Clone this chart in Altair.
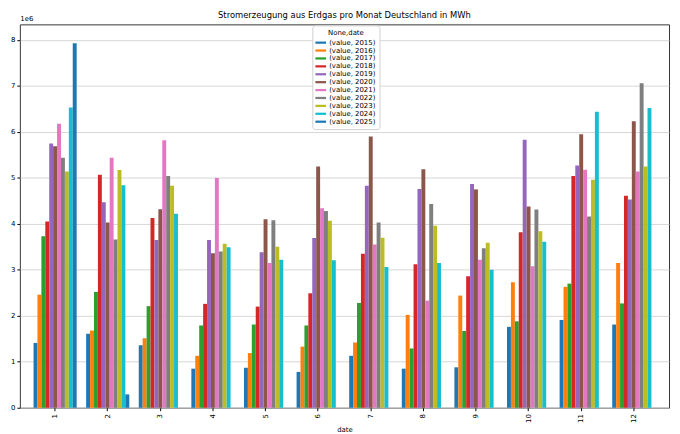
import altair as alt
import pandas as pd

months = list(range(1, 13))
years = [2015, 2016, 2017, 2018, 2019, 2020, 2021, 2022, 2023, 2024, 2025]

# values in 1e6 MWh
v2015 = [1.41, 1.61, 1.36, 0.85, 0.87, 0.78, 1.13, 0.85, 0.88, 1.76, 1.91, 1.81]
v2016 = [2.46, 1.68, 1.51, 1.13, 1.19, 1.33, 1.42, 2.02, 2.44, 2.73, 2.63, 3.15]
v2017 = [3.73, 2.52, 2.21, 1.79, 1.81, 1.79, 2.28, 1.29, 1.67, 1.88, 2.70, 2.27]
v2018 = [4.05, 5.07, 4.13, 2.26, 2.20, 2.49, 3.35, 3.12, 2.86, 3.82, 5.04, 4.61]
v2019 = [5.75, 4.47, 3.65, 3.65, 3.38, 3.69, 4.83, 4.76, 4.87, 5.83, 5.27, 4.53]
v2020 = [5.69, 4.03, 4.32, 3.36, 4.10, 5.25, 5.90, 5.19, 4.75, 4.38, 5.95, 6.23]
v2021 = [6.18, 5.44, 5.82, 5.00, 3.15, 4.34, 3.55, 2.33, 3.22, 3.08, 5.18, 5.14]
v2022 = [5.44, 3.66, 5.04, 3.40, 4.08, 4.28, 4.03, 4.43, 3.47, 4.31, 4.16, 7.06]
v2023 = [5.14, 5.17, 4.83, 3.57, 3.50, 4.07, 3.70, 3.96, 3.59, 3.84, 4.96, 5.25]
v2024 = [6.53, 4.84, 4.22, 3.49, 3.22, 3.21, 3.06, 3.15, 3.00, 3.61, 6.44, 6.52]
v2025 = [7.93, 0.29]

series = [v2015, v2016, v2017, v2018, v2019, v2020, v2021, v2022, v2023, v2024, v2025]
labels = [f"(value, {y})" for y in years]
colors = ["#1f77b4", "#ff7f0e", "#2ca02c", "#d62728", "#9467bd", "#8c564b",
          "#e377c2", "#7f7f7f", "#bcbd22", "#17becf", "#1f77b4"]

rows = []
for lab, vals in zip(labels, series):
    for m, v in zip(months, vals):
        rows.append({"date": m, "series": lab, "value": v})
df = pd.DataFrame(rows)

FONT = "DejaVu Sans"

chart = alt.Chart(df).mark_bar().encode(
    x=alt.X("date:O", sort=months,
            scale=alt.Scale(paddingInner=0.18, paddingOuter=0.26),
            axis=alt.Axis(title="date", labelAngle=270, grid=False, domain=False,
                          tickColor="#000", tickSize=3, labelPadding=3,
                          labelFontSize=7, titleFontSize=7, titlePadding=3,
                          titleFontWeight="normal", labelColor="#000", titleColor="#000")),
    xOffset=alt.XOffset("series:N", sort=labels, scale=alt.Scale(domain=labels, paddingInner=0, paddingOuter=0)),
    y=alt.Y("value:Q", scale=alt.Scale(domain=[0, 8.34], nice=False, zero=True),
            axis=alt.Axis(values=[0, 1, 2, 3, 4, 5, 6, 7, 8], format="d", grid=True,
                          gridColor="#cccccc", gridWidth=0.8, domain=False,
                          tickColor="#000", tickSize=3, labelFontSize=7, labelColor="#000",
                          title="1e6", titleAngle=0, titleX=0, titleY=-3, titleAlign="left",
                          titleBaseline="bottom", titleFontSize=7, titleFontWeight="normal",
                          titleColor="#000")),
    color=alt.Color("series:N", sort=labels,
                    scale=alt.Scale(domain=labels, range=colors),
                    legend=alt.Legend(title="None,date", orient="none", legendX=296, legendY=1,
                                      titleAnchor="middle", titleFontSize=7, titleFontWeight="normal",
                                      titleColor="#000", titlePadding=2,
                                      labelFontSize=7, labelColor="#000", labelFont=FONT,
                                      symbolType="M-1.2,-0.25L1.2,-0.25L1.2,0.25L-1.2,0.25Z",
                                      symbolSize=81, symbolStrokeWidth=0, symbolOpacity=1,
                                      rowPadding=0, padding=4, strokeColor="#d0d0d0",
                                      fillColor="white", cornerRadius=3)),
).properties(
    width=657, height=388,
    title=alt.TitleParams("Stromerzeugung aus Erdgas pro Monat Deutschland in MWh",
                          fontSize=8.5, fontWeight="normal", font=FONT, color="#000",
                          anchor="middle", offset=-5, frame="group"),
    padding={"left": 12, "top": 14, "right": 3, "bottom": 24},
    autosize=alt.AutoSizeParams(type="none"),
).configure(font=FONT).configure_view(stroke="#333", strokeWidth=1)

chart.save("out.html", embed_options={"renderer": "svg", "actions": False})
